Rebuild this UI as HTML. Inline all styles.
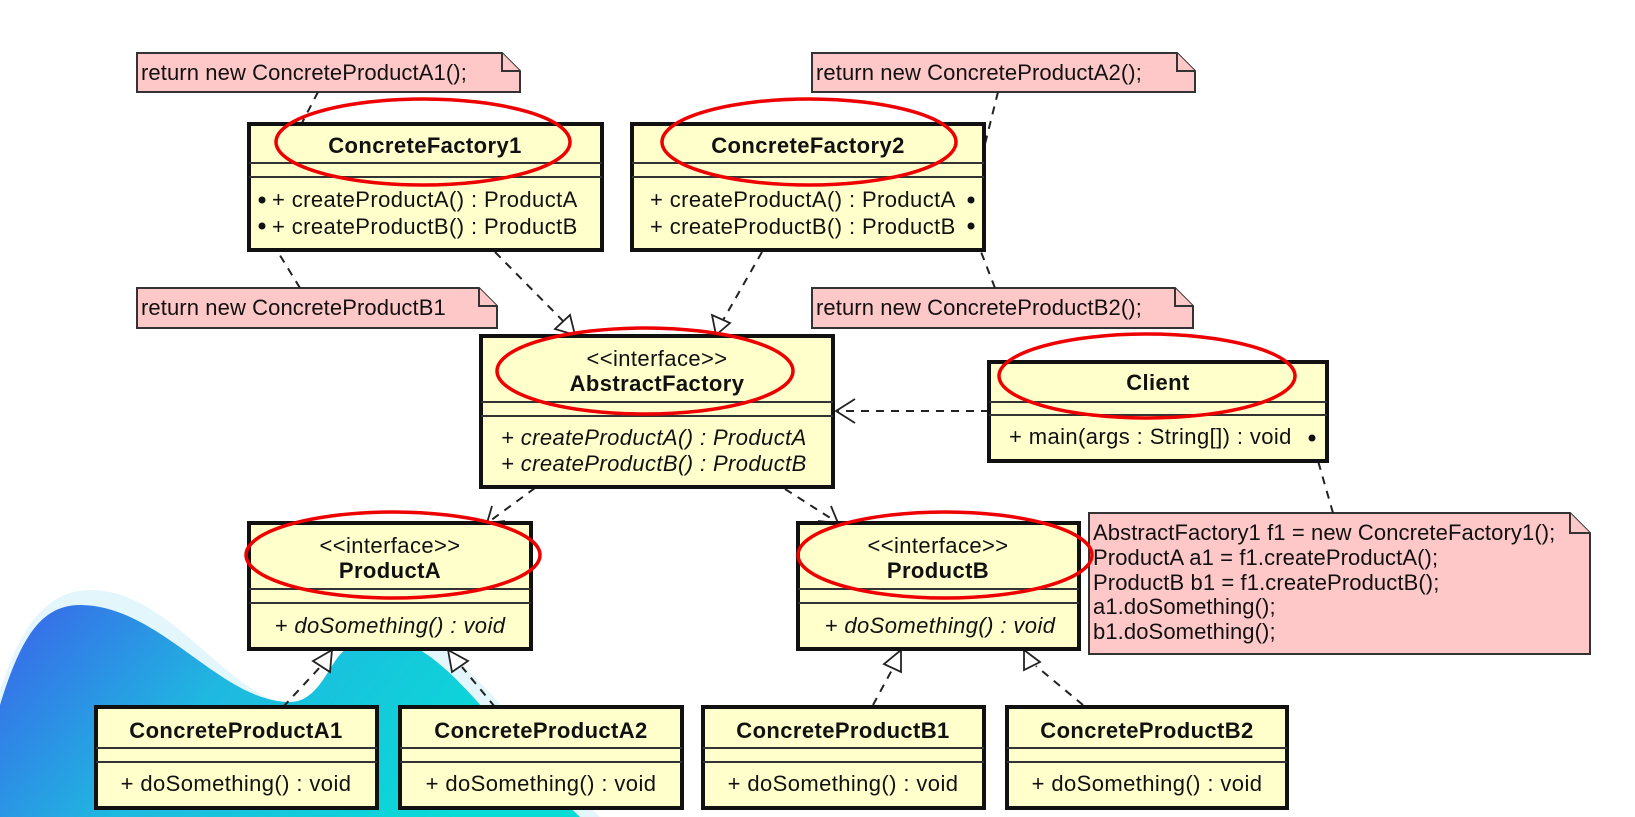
<!DOCTYPE html>
<html><head><meta charset="utf-8"><style>
html,body{margin:0;padding:0;background:#fff;}
svg{display:block;}
text{font-family:"Liberation Sans",sans-serif;fill:#111;letter-spacing:0.4px;}
.b{font-weight:bold;font-size:22px;}
.r{font-size:22px;}
.n{font-size:22px;letter-spacing:0.1px;}
.i{font-size:22px;font-style:italic;}
.box{fill:#ffffcc;stroke:#111;stroke-width:4;}
.ln{stroke:#333;stroke-width:2;}
.note{fill:#ffc8c8;stroke:#333;stroke-width:2;}
.d{stroke:#222;stroke-width:2;stroke-dasharray:8,7;fill:none;}
.tri{fill:#fff;stroke:#222;stroke-width:1.8;}
.ell{fill:none;stroke:#e00;stroke-width:3.5;}
</style></head><body>
<svg width="1635" height="817" viewBox="0 0 1635 817" xmlns="http://www.w3.org/2000/svg">
<defs>
<linearGradient id="g" x1="0" y1="0" x2="1" y2="0.3">
<stop offset="0" stop-color="#3b62ea"/><stop offset="0.45" stop-color="#1fb8e0"/><stop offset="1" stop-color="#08dcd6"/>
</linearGradient>
</defs>
<path d="M0,690 C20,630 45,590 90,590 C175,590 230,705 300,706 C335,706 345,660 365,648 L440,648 C490,680 540,760 600,817 L0,817 Z" fill="#e3f6fb"/>
<path d="M0,705 C20,640 40,605 80,605 C160,605 220,702 290,702 C320,702 330,660 345,650 L420,650 C470,680 520,760 580,817 L0,817 Z" fill="url(#g)"/>

<g>
<path class="note" d="M137,53 L502,53 L520,71 L520,92 L137,92 Z"/><path class="note" d="M502,53 L502,71 L520,71" fill="none"/>
<text class="n" x="141" y="80">return new ConcreteProductA1();</text>
<path class="note" d="M137,288 L479,288 L497,306 L497,328 L137,328 Z"/><path class="note" d="M479,288 L479,306 L497,306" fill="none"/>
<text class="n" x="141" y="315">return new ConcreteProductB1</text>
<path class="note" d="M812,53 L1177,53 L1195,71 L1195,92 L812,92 Z"/><path class="note" d="M1177,53 L1177,71 L1195,71" fill="none"/>
<text class="n" x="816" y="80">return new ConcreteProductA2();</text>
<path class="note" d="M812,288 L1175,288 L1193,306 L1193,328 L812,328 Z"/><path class="note" d="M1175,288 L1175,306 L1193,306" fill="none"/>
<text class="n" x="816" y="315">return new ConcreteProductB2();</text>
<path class="note" d="M1089,513 L1570,513 L1590,533 L1590,654 L1089,654 Z"/><path class="note" d="M1570,513 L1570,533 L1590,533" fill="none"/>
<text class="n" x="1093" y="540">AbstractFactory1 f1 = new ConcreteFactory1();</text>
<text class="n" x="1093" y="565">ProductA a1 = f1.createProductA();</text>
<text class="n" x="1093" y="590">ProductB b1 = f1.createProductB();</text>
<text class="n" x="1093" y="614">a1.doSomething();</text>
<text class="n" x="1093" y="639">b1.doSomething();</text>
</g>

<line class="d" x1="318" y1="92" x2="262" y2="200"/>
<line class="d" x1="300" y1="288" x2="262" y2="226"/>
<line class="d" x1="998" y1="92" x2="971" y2="200"/>
<line class="d" x1="995" y1="288" x2="971" y2="226"/>
<line class="d" x1="1333" y1="513" x2="1312" y2="440"/>

<line class="d" x1="495" y1="252" x2="566" y2="324"/>
<polygon class="tri" points="575,335 555,329 570,315"/>
<line class="d" x1="762" y1="252" x2="722" y2="322"/>
<polygon class="tri" points="716,335 712,315 730,323"/>
<line class="d" x1="989" y1="411" x2="838" y2="411"/>
<path d="M855,399 L836,411 L855,423" fill="none" stroke="#222" stroke-width="1.8"/>
<line class="d" x1="535" y1="488" x2="490" y2="521"/>
<path d="M492,506 L487,523 L505,521" fill="none" stroke="#222" stroke-width="1.8"/>
<line class="d" x1="785" y1="489" x2="835" y2="521"/>
<path d="M818,521 L838,523 L831,506" fill="none" stroke="#222" stroke-width="1.8"/>
<line class="d" x1="283" y1="707" x2="322" y2="665"/>
<polygon class="tri" points="332,650 330,672 313,661"/>
<line class="d" x1="495" y1="707" x2="462" y2="667"/>
<polygon class="tri" points="448,650 468,661 452,672"/>
<line class="d" x1="873" y1="705" x2="893" y2="668"/>
<polygon class="tri" points="901,650 901,672 884,664"/>
<line class="d" x1="1083" y1="705" x2="1036" y2="666"/>
<polygon class="tri" points="1024,650 1040,662 1024,670"/>

<rect class="box" x="249" y="124" width="353" height="126"/>
<line class="ln" x1="249" y1="163" x2="602" y2="163"/><line class="ln" x1="249" y1="177" x2="602" y2="177"/>
<text class="b" x="425" y="153" text-anchor="middle">ConcreteFactory1</text>
<text class="r" x="272" y="207">+ createProductA() : ProductA</text>
<text class="r" x="272" y="234">+ createProductB() : ProductB</text>
<circle cx="262" cy="200" r="3.5" fill="#111"/><circle cx="262" cy="226" r="3.5" fill="#111"/>

<rect class="box" x="632" y="124" width="352" height="126"/>
<line class="ln" x1="632" y1="163" x2="984" y2="163"/><line class="ln" x1="632" y1="177" x2="984" y2="177"/>
<text class="b" x="808" y="153" text-anchor="middle">ConcreteFactory2</text>
<text class="r" x="650" y="207">+ createProductA() : ProductA</text>
<text class="r" x="650" y="234">+ createProductB() : ProductB</text>
<circle cx="971" cy="200" r="3.5" fill="#111"/><circle cx="971" cy="226" r="3.5" fill="#111"/>

<rect class="box" x="481" y="336" width="352" height="151"/>
<line class="ln" x1="481" y1="402" x2="833" y2="402"/><line class="ln" x1="481" y1="416" x2="833" y2="416"/>
<text class="r" x="657" y="366" text-anchor="middle">&lt;&lt;interface&gt;&gt;</text>
<text class="b" x="657" y="391" text-anchor="middle">AbstractFactory</text>
<text class="i" x="501" y="445">+ createProductA() : ProductA</text>
<text class="i" x="501" y="471">+ createProductB() : ProductB</text>

<rect class="box" x="989" y="362" width="338" height="99"/>
<line class="ln" x1="989" y1="402" x2="1327" y2="402"/><line class="ln" x1="989" y1="415" x2="1327" y2="415"/>
<text class="b" x="1158" y="390" text-anchor="middle">Client</text>
<text class="r" x="1009" y="444">+ main(args : String[]) : void</text>
<circle cx="1312" cy="438" r="3.5" fill="#111"/>

<rect class="box" x="249" y="523" width="282" height="126"/>
<line class="ln" x1="249" y1="589" x2="531" y2="589"/><line class="ln" x1="249" y1="603" x2="531" y2="603"/>
<text class="r" x="390" y="553" text-anchor="middle">&lt;&lt;interface&gt;&gt;</text>
<text class="b" x="390" y="578" text-anchor="middle">ProductA</text>
<text class="i" x="390" y="633" text-anchor="middle">+ doSomething() : void</text>

<rect class="box" x="798" y="523" width="281" height="126"/>
<line class="ln" x1="798" y1="589" x2="1079" y2="589"/><line class="ln" x1="798" y1="603" x2="1079" y2="603"/>
<text class="r" x="938" y="553" text-anchor="middle">&lt;&lt;interface&gt;&gt;</text>
<text class="b" x="938" y="578" text-anchor="middle">ProductB</text>
<text class="i" x="940" y="633" text-anchor="middle">+ doSomething() : void</text>

<g>
<rect class="box" x="96" y="707" width="281" height="101"/>
<line class="ln" x1="96" y1="748" x2="377" y2="748"/><line class="ln" x1="96" y1="762" x2="377" y2="762"/>
<text class="b" x="236" y="738" text-anchor="middle">ConcreteProductA1</text>
<text class="r" x="236" y="791" text-anchor="middle">+ doSomething() : void</text>

<rect class="box" x="400" y="707" width="282" height="101"/>
<line class="ln" x1="400" y1="748" x2="682" y2="748"/><line class="ln" x1="400" y1="762" x2="682" y2="762"/>
<text class="b" x="541" y="738" text-anchor="middle">ConcreteProductA2</text>
<text class="r" x="541" y="791" text-anchor="middle">+ doSomething() : void</text>

<rect class="box" x="703" y="707" width="281" height="101"/>
<line class="ln" x1="703" y1="748" x2="984" y2="748"/><line class="ln" x1="703" y1="762" x2="984" y2="762"/>
<text class="b" x="843" y="738" text-anchor="middle">ConcreteProductB1</text>
<text class="r" x="843" y="791" text-anchor="middle">+ doSomething() : void</text>

<rect class="box" x="1007" y="707" width="280" height="101"/>
<line class="ln" x1="1007" y1="748" x2="1287" y2="748"/><line class="ln" x1="1007" y1="762" x2="1287" y2="762"/>
<text class="b" x="1147" y="738" text-anchor="middle">ConcreteProductB2</text>
<text class="r" x="1147" y="791" text-anchor="middle">+ doSomething() : void</text>
</g>

<ellipse class="ell" cx="423" cy="142" rx="147" ry="43"/>
<ellipse class="ell" cx="809" cy="142" rx="147" ry="43"/>
<ellipse class="ell" cx="645" cy="371" rx="148" ry="43"/>
<ellipse class="ell" cx="1147" cy="376" rx="148" ry="42"/>
<ellipse class="ell" cx="393" cy="555" rx="147" ry="43"/>
<ellipse class="ell" cx="945" cy="555" rx="147" ry="43"/>
</svg>
</body></html>
